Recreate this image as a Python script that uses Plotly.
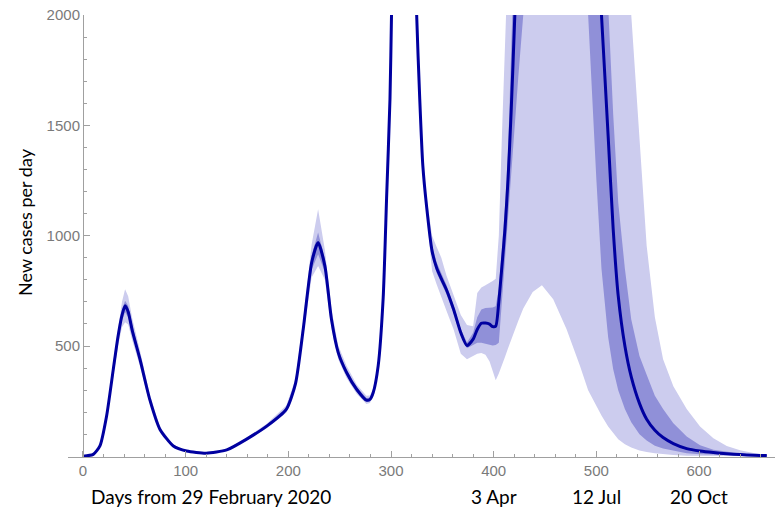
import plotly.graph_objects as go

# Days from 29 February 2020 (shared grid for all series)
days = [0, 10, 16.5, 23, 29.5, 34, 38, 41, 44, 48,
        55.5, 65, 75, 88, 101, 120, 140, 159, 179, 198,
        207, 214.5, 222.7, 229, 235.6, 242, 248.6, 256.7, 266.5, 276,
        279.5, 282.7, 287.5, 292.4, 295.7, 299, 300.5, 303, 312, 322,
        325, 328, 331, 334.6, 340, 344.4, 349, 354, 361, 368,
        374, 380, 384, 388, 392, 396, 399, 402, 405, 408,
        411, 414, 417, 420.6, 424, 428.8, 438, 447, 458, 471,
        484, 492, 500, 505, 511.5, 516.4, 521.3, 527.8, 534, 542,
        549, 557, 565, 575, 588, 601, 614, 627, 640, 653, 666]

median = [0, 9, 47, 183, 394, 540, 640, 682, 655, 570,
          440, 258, 122, 47, 24, 14, 29, 77, 137, 213,
          330, 576, 878, 969, 863, 621, 470, 380, 304, 255,
          258, 289, 410, 720, 1170, 1619, 2004, 2700, 4000, 2700,
          2000, 1619, 1317, 1135, 930, 855, 805, 755, 665, 560,
          502, 531, 575, 603, 604, 599, 588, 590, 700, 860,
          1030, 1256, 1560, 2000, 2500, 3200, 4500, 6000, 7000, 7000,
          4500, 3200, 2400, 2000, 1450, 1029, 727, 500, 360, 240,
          168, 118, 85, 58, 35, 24, 17, 12, 8, 5, 4]

inner_lo = [0, 8, 44, 175, 378, 520, 615, 653, 630, 550,
            425, 249, 117, 45, 23, 13, 28, 74, 132, 206,
            320, 558, 845, 916, 835, 602, 456, 368, 294, 246,
            250, 281, 402, 710, 1158, 1605, 1985, 2650, 3900, 2650,
            1985, 1600, 1300, 1118, 905, 832, 783, 735, 647, 545,
            490, 505, 515, 515, 510, 505, 502, 505, 515, 700,
            880, 1050, 1240, 1500, 1720, 2000, 3000, 4200, 5000, 5000,
            3200, 2000, 1256, 850, 540, 395, 300, 215, 155, 100,
            72, 48, 35, 24, 14, 9, 6, 4, 3, 2, 1]

inner_hi = [0, 10, 50, 191, 410, 560, 665, 705, 682, 595,
            458, 268, 127, 49, 25, 15, 30, 80, 142, 221,
            340, 594, 910, 1014, 893, 641, 485, 392, 314, 264,
            266, 297, 418, 730, 1182, 1633, 2020, 2750, 4100, 2750,
            2015, 1640, 1335, 1152, 955, 880, 828, 776, 684, 576,
            516, 560, 630, 665, 672, 674, 674, 680, 760, 940,
            1130, 1380, 1700, 2150, 2700, 3500, 5000, 7000, 8000, 8500,
            6000, 4500, 3300, 2700, 2000, 1550, 1150, 850, 620, 455,
            370, 275, 215, 150, 90, 50, 30, 20, 13, 8, 5]

outer_lo = [0, 7, 41, 166, 362, 498, 585, 608, 598, 525,
            408, 240, 112, 43, 22, 12, 27, 71, 127, 198,
            308, 538, 810, 863, 800, 580, 440, 355, 284, 237,
            242, 273, 394, 700, 1145, 1590, 1965, 2600, 3800, 2600,
            1970, 1585, 1280, 1095, 840, 780, 720, 660, 575, 465,
            440, 455, 465, 468, 460, 430, 390, 345, 375, 410,
            450, 490, 530, 575, 615, 670, 745, 775, 712, 576,
            410, 300, 230, 185, 135, 105, 78, 55, 40, 27,
            20, 14, 10, 6, 3, 1, 0, 0, 0, 0, 0]

outer_hi = [0, 11, 54, 200, 428, 585, 700, 757, 725, 625,
            480, 280, 133, 52, 26, 16, 31, 83, 148, 230,
            352, 615, 960, 1120, 935, 665, 502, 410, 326, 274,
            276, 306, 428, 742, 1195, 1650, 2040, 2800, 4200, 2800,
            2030, 1660, 1360, 1175, 1000, 950, 900, 820, 725, 640,
            595, 590, 740, 765, 775, 785, 795, 805, 1000, 1450,
            1830, 2200, 2700, 3200, 3800, 4500, 6500, 8000, 9500, 10000,
            8000, 6500, 5000, 4200, 3600, 3200, 2800, 2400, 2000, 1420,
            954, 630, 440, 318, 215, 135, 82, 47, 28, 15, 5]

for s in (median, inner_lo, inner_hi, outer_lo, outer_hi):
    assert len(s) == len(days)

x_ticks = [0, 100, 200, 300, 400, 500, 600]
y_ticks = [500, 1000, 1500, 2000]
date_days = [400, 500, 600]
date_labels = ["3 Apr", "12 Jul", "20 Oct"]

LIGHT = "rgb(204,204,238)"
DARK = "rgb(144,144,216)"
LINE = "rgb(0,0,160)"
AXIS = "#a0a0a0"
TICKTXT = "#7a7a7a"

fig = go.Figure()
fig.add_trace(go.Scatter(x=days + days[::-1], y=outer_hi + outer_lo[::-1],
                         fill="toself", fillcolor=LIGHT, mode="lines",
                         line=dict(width=0, color=LIGHT), hoverinfo="skip",
                         showlegend=False))
fig.add_trace(go.Scatter(x=days + days[::-1], y=inner_hi + inner_lo[::-1],
                         fill="toself", fillcolor=DARK, mode="lines",
                         line=dict(width=0, color=DARK), hoverinfo="skip",
                         showlegend=False))
fig.add_trace(go.Scatter(x=days, y=median, mode="lines",
                         line=dict(color=LINE, width=3, shape="spline", smoothing=0.6),
                         showlegend=False))

x0, x1 = -14.6, 674
ypos = (0 - x0) / (x1 - x0)
tickfont = dict(family="Liberation Sans, Arial", size=15, color=TICKTXT)

fig.update_layout(
    width=775, height=509,
    margin=dict(l=68, r=0, t=15, b=52),
    plot_bgcolor="white", paper_bgcolor="white",
    xaxis=dict(range=[x0, x1], showgrid=False, zeroline=False,
               showline=True, linecolor=AXIS, linewidth=1,
               tickmode="array", tickvals=x_ticks,
               ticks="inside", ticklen=6, tickcolor=AXIS,
               minor=dict(ticks="inside", dtick=20, tick0=0, ticklen=3, tickcolor=AXIS),
               tickfont=tickfont),
    yaxis=dict(range=[-3, 2000], showgrid=False, zeroline=False,
               anchor="free", position=ypos,
               showline=True, linecolor=AXIS, linewidth=1,
               tickmode="array", tickvals=y_ticks,
               ticks="inside", ticklen=6, tickcolor=AXIS,
               minor=dict(ticks="inside", dtick=100, tick0=0, ticklen=3, tickcolor=AXIS),
               tickfont=tickfont),
)

fig.add_annotation(text="New cases per day", xref="paper", yref="paper",
                   x=(25 - 68) / 707, y=(457 - 222) / 442, textangle=-90,
                   showarrow=False, xanchor="center", yanchor="middle",
                   font=dict(family="Lato", size=18, color="black"))
fig.add_annotation(text="Days from 29 February 2020", xref="paper", yref="paper",
                   x=(89 - 68) / 707, y=(457 - 497) / 442,
                   showarrow=False, xanchor="left", yanchor="middle",
                   font=dict(family="Lato", size=19, color="black"))
for d, lab in zip(date_days, date_labels):
    fig.add_annotation(text=lab, xref="x", yref="paper", x=d, y=(457 - 497) / 442,
                       showarrow=False, xanchor="center", yanchor="middle",
                       font=dict(family="Lato", size=19, color="black"))

fig.write_html("out.html", config={"displayModeBar": False},
               post_script="document.body.style.margin='0px';")
